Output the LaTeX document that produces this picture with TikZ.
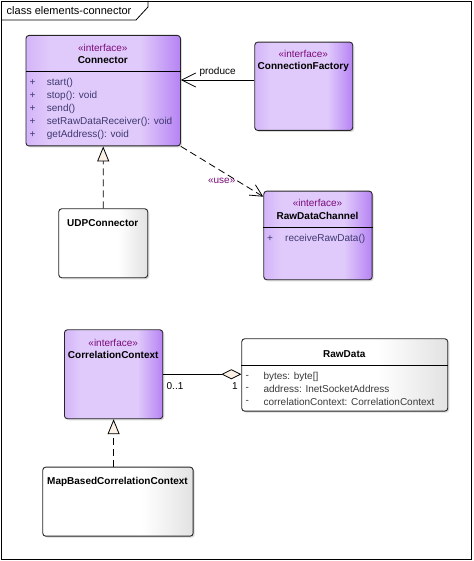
\documentclass[tikz,border=0pt]{standalone}
\usepackage{fontspec}
\setmainfont{Liberation Sans}
\usetikzlibrary{arrows.meta,positioning,calc,shadows}
\definecolor{lilac}{HTML}{E0CAFB}
\definecolor{lilacdark}{HTML}{B683F3}
\definecolor{greyend}{HTML}{E2E2E2}
\definecolor{stereo}{HTML}{7A0A7A}
\definecolor{opink}{HTML}{3E3870}
\definecolor{attrink}{HTML}{3A3A3A}
\definecolor{tipfill}{HTML}{FBF1E4}
\pgfdeclarehorizontalshading{lilacshade}{100bp}{color(0bp)=(lilac!70!lilacdark); color(25bp)=(lilac!70!lilacdark);
  color(33bp)=(lilac); color(62bp)=(lilac); color(75bp)=(lilacdark); color(100bp)=(lilacdark)}
\pgfdeclarehorizontalshading{greyshade}{100bp}{color(0bp)=(white); color(58bp)=(white);
  color(75bp)=(greyend); color(100bp)=(greyend)}
\tikzset{classbox/.style={draw=black!85,line width=.9pt,rounded corners=3pt,anchor=north west,
   drop shadow={shadow xshift=1.5pt,shadow yshift=-1.5pt,opacity=.3}},
  iface/.style={classbox,shading=lilacshade},
  plain/.style={classbox,shading=greyshade},
  lbl/.style={font=\fontsize{10}{12}\selectfont,inner sep=0pt},
  stype/.style={lbl,text=stereo},
  cname/.style={lbl,font=\fontsize{10}{12}\selectfont\bfseries},
  member/.style={lbl,anchor=west},
  realize/.style={dash pattern=on 7pt off 4pt,line width=.8pt,-{Triangle[length=15pt,width=12pt,fill=tipfill]}},
  depend/.style={line width=.8pt,-{Straight Barb[length=14pt,width=14pt]}}}

\begin{document}
\begin{tikzpicture}[x=1pt,y=-1pt]
\useasboundingbox (0,0) rectangle (473,561);
% frame and title tab
\draw[line width=.8pt] (1,1) rectangle (471,559);
\draw[line width=.8pt] (1,20) -- (136,20) -- (148,7) -- (148,1);
\node[lbl,font=\fontsize{11}{13}\selectfont,anchor=west] (title) at (6.5,11) {class elements-connector};

% Connector
\node[iface,minimum width=154.5pt,minimum height=110.5pt] (con) at (25.5,35) {};
\node[stype] (constype) at (102.75,48) {«interface»};
\node[cname] (conname) at (102.75,60.5) {Connector};
\draw[line width=.8pt] (con.west |- 0,71.7) -- (con.east |- 0,71.7);
\foreach \op [count=\k] in {start(),stop(): void,send(),setRawDataReceiver(): void,getAddress(): void} {
 \node[lbl,text=opink] (plus\k) at (32.5,69.7+13*\k) {+};
 \node[member,text=opink] (op\k) at (46.7,69.7+13*\k) {\op};
}

% ConnectionFactory
\node[iface,minimum width=98pt,minimum height=88.3pt] (cf) at (254.3,41.7) {};
\node[stype] (cfstype) at (303.3,54) {«interface»};
\node[cname] (cfname) at (303.3,66.7) {ConnectionFactory};

% UDPConnector
\node[plain,minimum width=89pt,minimum height=69pt] (udp) at (58.3,208.3) {};
\node[cname] (udpname) at (102.8,223.3) {UDPConnector};

% RawDataChannel
\node[iface,minimum width=108.4pt,minimum height=88.6pt] (rdc) at (263.3,190.7) {};
\node[stype] (rdcstype) at (317.5,202.7) {«interface»};
\node[cname] (rdcname) at (317.5,215.7) {RawDataChannel};
\draw[line width=.8pt] (rdc.west |- 0,227.3) -- (rdc.east |- 0,227.3);
\node[lbl,text=opink] (rdcplus) at (270,238.7) {+};
\node[member,text=opink] (rdcop) at (285,238.7) {receiveRawData()};

% CorrelationContext
\node[iface,minimum width=98.3pt,minimum height=89pt] (cc) at (64,329.3) {};
\node[stype] (ccstype) at (113.2,342.7) {«interface»};
\node[cname] (ccname) at (113.2,354.7) {CorrelationContext};

% RawData
\node[plain,minimum width=206pt,minimum height=72.4pt] (rd) at (241.3,338.3) {};
\node[cname] (rdname) at (344.3,354) {RawData};
\draw[line width=.8pt] (rd.west |- 0,365) -- (rd.east |- 0,365);
\foreach \attr [count=\k] in {bytes: byte[],address: InetSocketAddress,correlationContext: CorrelationContext} {
 \node[lbl,text=attrink] (minus\k) at (247.3,364.2+12.5*\k) {-};
 \node[member,text=attrink] (attr\k) at (263.3,364.2+12.5*\k) {\attr};
}

% MapBasedCorrelationContext
\node[plain,minimum width=150.4pt,minimum height=69pt] (mbcc) at (42.3,466.7) {};
\node[cname] (mbccname) at (117.5,481.7) {MapBasedCorrelationContext};

% connectors
\draw[depend] (cf.west |- 0,80) -- (con.east |- 0,80) node[lbl,pos=.5,above=3pt] (produce) {produce};
\draw[depend,dash pattern=on 7pt off 4pt,-{Straight Barb[length=12pt,width=12pt]}] (con.south east) -- (rdc.west |- 0,196.7);
\node[lbl,text=stereo] (use) at (221.7,180.7) {«use»};
\draw[realize] (udp.north) -- (con.south);
\draw[realize] (cc.south |- mbcc.north) -- (cc.south);
\draw[line width=.8pt,-{Diamond[length=20pt,width=10pt,fill=tipfill]}] (cc.east) -- (cc.east -| rd.west);
\node[lbl] (mult1) at (175,386) {0..1};
\node[lbl] (mult2) at (235,386) {1};
\end{tikzpicture}
\end{document}
